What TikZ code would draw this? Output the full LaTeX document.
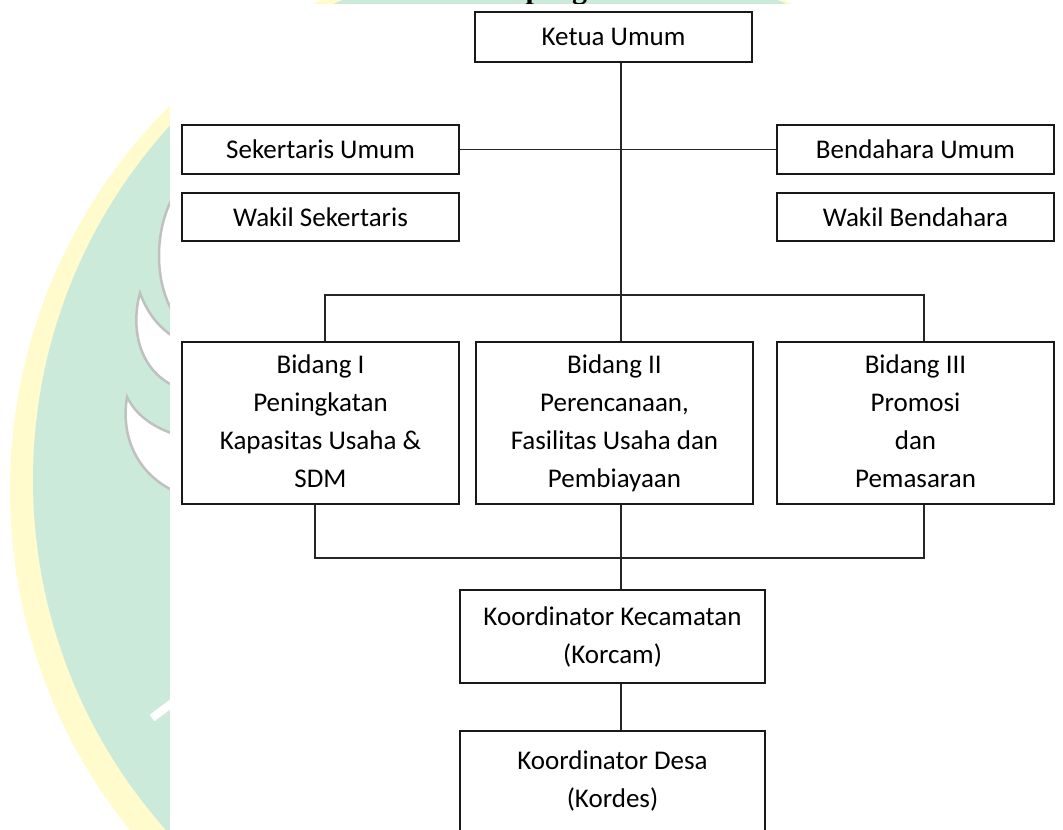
\documentclass[tikz,border=0pt]{standalone}
\usepackage{fontspec}
\setmainfont{Carlito}
\newfontfamily\judulfont{Liberation Serif}
\usetikzlibrary{calc}
\definecolor{wmgreen}{RGB}{204,234,217}
\definecolor{wmyellow}{RGB}{255,251,204}
\definecolor{wmgray}{RGB}{192,192,192}

\begin{document}
\begin{tikzpicture}[x=1pt,y=-1pt,
                    jabatan/.style={draw=black!90,line width=1.6pt,fill=white,text=black,align=center,
                                    inner sep=0pt,minimum width=277pt,font=\fontsize{27}{38}\selectfont},
                    garis/.style={draw=black!85,line width=1.4pt},
                    daun/.style={fill=white,draw=wmgray,line width=2.5pt}]
            \useasboundingbox (0,0) rectangle (1063,830);
            \clip (0,0) rectangle (1063,830);
            % logo samar di belakang
            \fill[wmyellow] (552,490) circle [radius=542pt];
            \fill[wmgreen] (560,480) circle [radius=527pt];
            \filldraw[daun] (174,195) .. controls (154,230) and (154,282) .. (174,314) -- cycle;
            \filldraw[daun] (140,293) .. controls (130,330) and (140,370) .. (174,386) -- (174,337) .. controls (158,327) and (147,312) .. cycle;
            \filldraw[daun] (127,397) .. controls (120,440) and (140,475) .. (174,491) -- (174,434) .. controls (150,426) and (135,413) .. cycle;
            \draw[white,line width=8pt] (152,718) -- (176,700);
            \node[anchor=base west,font=\judulfont\bfseries\fontsize{30}{36}\selectfont] (judul) at (522,-2) {pengu};
            \fill[white] (170,4) rectangle (1063,830);
            % bagan
            \node[jabatan,minimum height=50pt] (ketua) at (613.5,37) {Ketua Umum};
            \node[jabatan,minimum height=49pt] (sekum) at (320.5,149.5) {Sekertaris Umum};
            \node[jabatan,minimum height=49pt] (bendum) at (915.5,149.5) {Bendahara Umum};
            \node[jabatan,minimum height=48pt] (wasek) at (320.5,217) {Wakil Sekertaris};
            \node[jabatan,minimum height=48pt] (wabend) at (915.5,217) {Wakil Bendahara};
            \node[jabatan,minimum height=162pt] (bidang1) at (320.5,423) {\strut Bidang I\\Peningkatan\\Kapasitas Usaha \&\\SDM\strut};
            \node[jabatan,minimum height=162pt] (bidang2) at (614.5,423) {\strut Bidang II\\Perencanaan,\\Fasilitas Usaha dan\\Pembiayaan\strut};
            \node[jabatan,minimum height=162pt] (bidang3) at (915.5,423) {\strut Bidang III\\Promosi\\dan\\Pemasaran\strut};
            \node[jabatan,minimum width=305pt,minimum height=93pt] (korcam) at (612.5,636.5) {\strut Koordinator Kecamatan\\(Korcam)\strut};
            \node[jabatan,minimum width=305pt,minimum height=100pt] (kordes) at (612.5,781) {\strut Koordinator Desa\\(Kordes)\strut};
            \coordinate (batang) at (621,0);
            \coordinate (atas kiri) at (325,295);
            \coordinate (atas kanan) at (924,295);
            \coordinate (bawah kiri) at (315,558);
            \coordinate (bawah kanan) at (924,558);
            \draw[garis] (ketua.south -| batang) -- (bidang2.north -| batang);
            \draw[garis] (sekum.east) -- (bendum.west);
            \draw[garis] (bidang1.north -| atas kiri) -- (atas kiri) -- (atas kanan) -- (bidang3.north -| atas kanan);
            \draw[garis] (bidang1.south -| bawah kiri) -- (bawah kiri) -- (bawah kanan) -- (bidang3.south -| bawah kanan);
            \draw[garis] (bidang2.south -| batang) -- (korcam.north -| batang);
            \draw[garis] (korcam.south -| batang) -- (kordes.north -| batang);

        \end{tikzpicture}
\end{document}
